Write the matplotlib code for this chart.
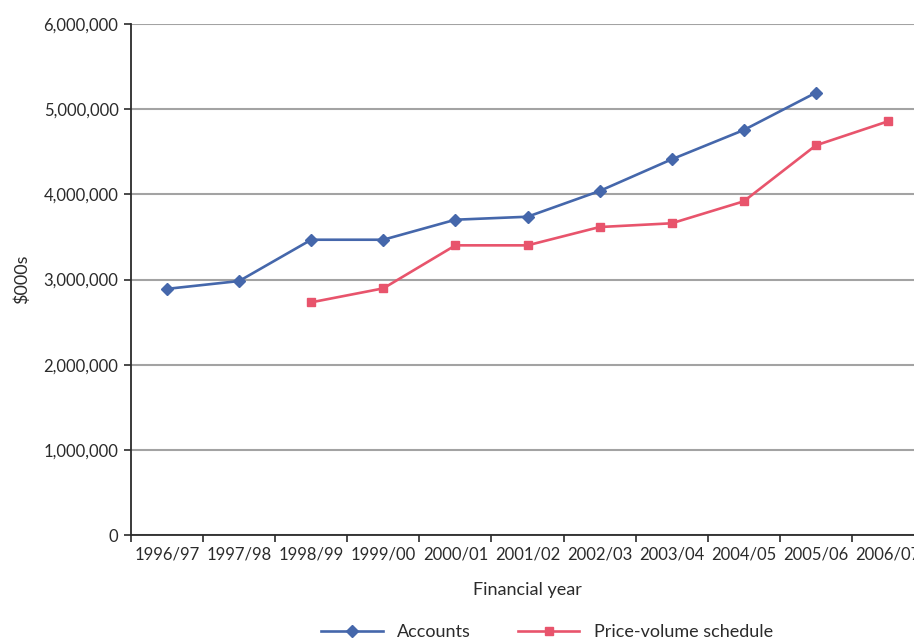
import matplotlib
matplotlib.use("Agg")
import matplotlib.pyplot as plt
import numpy as np
from matplotlib.ticker import FuncFormatter, FixedLocator

plt.rcParams['font.family'] = ['Lato', 'DejaVu Sans']

years = ["1996/97", "1997/98", "1998/99", "1999/00", "2000/01", "2001/02",
         "2002/03", "2003/04", "2004/05", "2005/06", "2006/07"]
accounts = [2890000, 2982000, 3467000, 3467000, 3702000, 3737000,
            4039000, 4411000, 4755000, 5193000, np.nan]
price_volume = [np.nan, np.nan, 2732000, 2896000, 3401000, 3401000,
                3616000, 3660000, 3918000, 4575000, 4857000]

text_color = "#2b2b2b"
blue = "#4567ab"
pink = "#e8546c"

fig = plt.figure(figsize=(9.14, 6.41), dpi=100)
ax = fig.add_axes([131/914, 1 - 535/641, 793/914, 511/641])

x = np.arange(len(years))
l1, = ax.plot(x, accounts, color=blue, lw=1.9, marker='D', ms=6, label="Accounts", zorder=3)
l2, = ax.plot(x, price_volume, color=pink, lw=1.9, marker='s', ms=5.5, label="Price-volume schedule", zorder=3)

ax.set_xlim(-0.5, len(years) - 0.5)
ax.set_ylim(0, 6000000)
ax.set_yticks(np.arange(0, 6000001, 1000000))
ax.yaxis.set_major_formatter(FuncFormatter(lambda v, p: f"{int(v):,}"))
ax.yaxis.grid(True, color="#a3a3a3", lw=1.5)
ax.set_axisbelow(True)

ax.set_xticks(x)
ax.set_xticklabels(years)
ax.xaxis.set_minor_locator(FixedLocator(np.arange(-0.5, len(years), 1)))
ax.tick_params(axis='x', which='major', length=0, pad=8, labelsize=12, colors=text_color)
ax.tick_params(axis='x', which='minor', length=5, width=1.2, color=text_color)
ax.tick_params(axis='y', length=5, width=1.2, labelsize=12, colors=text_color, pad=4)

for s in ['top', 'right']:
    ax.spines[s].set_visible(False)
for s in ['left', 'bottom']:
    ax.spines[s].set_color(text_color)
    ax.spines[s].set_linewidth(1.3)

ax.set_xlabel("Financial year", fontsize=13, color=text_color, labelpad=14)
ax.set_ylabel("$000s", fontsize=13, color=text_color, labelpad=10)

fig.legend(handles=[l1, l2], loc='center', bbox_to_anchor=(547/914, 1 - 632/641),
           ncol=2, frameon=False, fontsize=13, handlelength=3.4, columnspacing=2.6,
           labelcolor=text_color)

fig.savefig("out.png", dpi=100)
